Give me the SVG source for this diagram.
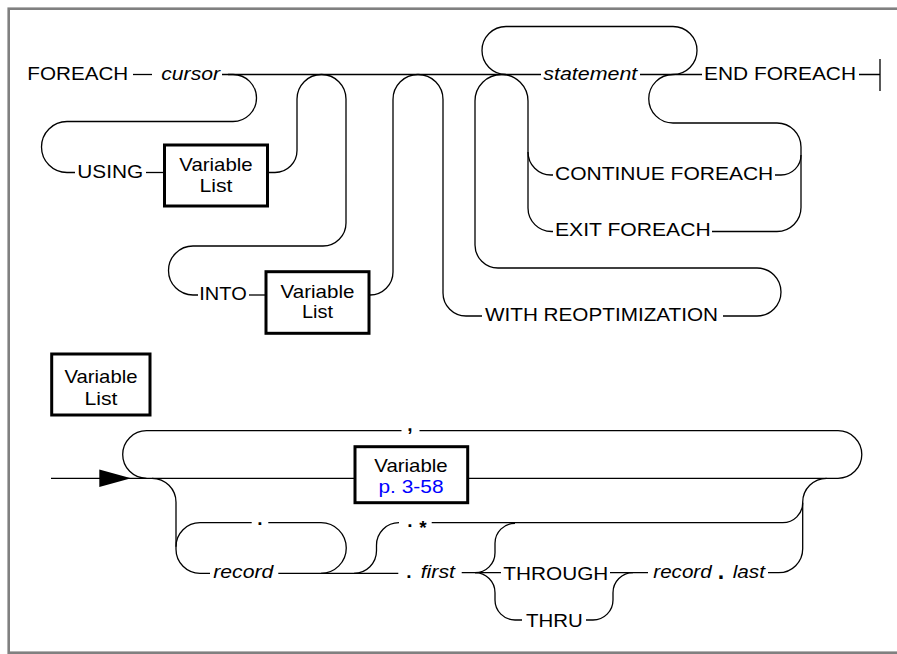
<svg xmlns="http://www.w3.org/2000/svg" width="897" height="654" viewBox="0 0 897 654">
<style>
.rail{fill:none;stroke:#000;stroke-width:1.3}
.box{fill:#fff;stroke:#000;stroke-width:3}
.frame{fill:#fff;stroke:#808080;stroke-width:2.6}
.t{font-family:"Liberation Sans",Arial,Helvetica,sans-serif;font-size:19px;fill:#000}
.i{font-style:italic}
.b{font-weight:bold}
.m{text-anchor:middle}
.link{fill:#0000ff}
</style>
<defs>
<marker id="arr" markerWidth="10" markerHeight="10" refX="0" refY="0" orient="auto"/>
</defs>
<rect class="frame" x="8.7" y="8.7" width="892" height="644"/>

<g id="connectors">
  <!-- top diagram -->
  <path class="rail" d="M133,74.5 H152"/>
  <path class="rail" d="M222,74.5 H541"/>
  <path class="rail" d="M228,74.5 H233 A23.5,23.5 0 0 1 233,121.5 H67 A25.5,25.5 0 0 0 67,172.5 H75"/>
  <path class="rail" d="M146,172.5 H164.5"/>
  <path class="rail" d="M267.5,172.5 H275 A22,22 0 0 0 297,150.5 V99 A24.5,24.5 0 0 1 346,99 V223 A23,23 0 0 1 323,246 H193 A24.5,24.5 0 0 0 193,295 H198"/>
  <path class="rail" d="M249,295 H266"/>
  <path class="rail" d="M369,295 H370 A23,23 0 0 0 393,272 V99.5 A25,25 0 0 1 443,99.5 V293 A23,23 0 0 0 466,316 H482"/>
  <path class="rail" d="M723,316 H757 A24,24 0 0 0 781,292 A24,24 0 0 0 757,268 H498 A23,23 0 0 1 475,245 V101 A26.5,26.5 0 0 1 528,101 V208 A23.5,23.5 0 0 0 551.5,231.5 H553"/>
  <path class="rail" d="M528,152 A23,23 0 0 0 551,175 H553"/>
  <path class="rail" d="M775,175 H781 A20,20 0 0 0 801,155"/>
  <path class="rail" d="M712,231.5 H777 A24,24 0 0 0 801,207.5 V147 A24,24 0 0 0 777,123 H673 A24,24 0 0 1 673,74.5"/>
  <path class="rail" d="M506,74.5 A24,24 0 0 1 506,26.5 H673 A24,24 0 0 1 673,74.5"/>
  <path class="rail" d="M640,74.5 H702"/>
  <path class="rail" d="M859,74.5 H880 M880,59 V91"/>
  <!-- bottom diagram -->
  <path class="rail" d="M51,478.3 H131"/>
  <polygon points="99.3,469.6 131,478.3 99.3,487" fill="#000"/>
  <path class="rail" d="M131,478.3 H355"/>
  <path class="rail" d="M467.7,478.3 H838 A23.8,23.8 0 0 0 838,430.7 H419.5"/>
  <path class="rail" d="M401.5,430.7 H146.5 A23.8,23.8 0 0 0 146.5,478.3"/>
  <path class="rail" d="M152,478.3 A24,24 0 0 1 176,502.3 V549.3 A24,24 0 0 0 200,573.3 H210"/>
  <path class="rail" d="M251.7,522.7 H200 A24,24 0 0 0 176,546.7"/>
  <path class="rail" d="M268.3,522.7 H321 A25.3,25.3 0 0 1 321,573.3"/>
  <path class="rail" d="M278.3,573.3 H398.3"/>
  <path class="rail" d="M354,573.3 A22.5,22.5 0 0 0 376.5,550.8 V545.2 A22.5,22.5 0 0 1 399,522.7"/>
  <path class="rail" d="M431.7,522.7 H782.7 A20,20 0 0 0 802.7,502.7"/>
  <path class="rail" d="M826.7,478.3 A24,24 0 0 0 802.7,502.3 V548.7 A24,24 0 0 1 778.7,572.7 H768"/>
  <path class="rail" d="M461.7,572.7 H501"/>
  <path class="rail" d="M475,572.7 A20,20 0 0 0 495,552.7 V543.3 A20,20 0 0 1 515,523.3"/>
  <path class="rail" d="M475,572.7 A20,20 0 0 1 495,592.7 V600 A20,20 0 0 0 515,620 H522"/>
  <path class="rail" d="M610,572.7 H648"/>
  <path class="rail" d="M586,620 H593 A20,20 0 0 0 613,600 V592.7 A20,20 0 0 1 633,572.7"/>
</g>

<g id="foreach"><text class="t" x="27.3" y="80" textLength="101" lengthAdjust="spacingAndGlyphs">FOREACH</text></g>
<g id="cursor"><text class="t i" x="161.3" y="80" textLength="58.7" lengthAdjust="spacingAndGlyphs">cursor</text></g>
<g id="using"><text class="t" x="77.3" y="178.3" textLength="66" lengthAdjust="spacingAndGlyphs">USING</text></g>
<g id="using-varlist">
  <rect class="box" x="164.5" y="145" width="103" height="61"/>
  <text class="t m" x="216" y="170.7" textLength="73.3" lengthAdjust="spacingAndGlyphs">Variable</text>
  <text class="t m" x="216" y="192.3" textLength="33" lengthAdjust="spacingAndGlyphs">List</text>
</g>
<g id="into"><text class="t" x="199.3" y="300" textLength="47.4" lengthAdjust="spacingAndGlyphs">INTO</text></g>
<g id="into-varlist">
  <rect class="box" x="266" y="271.7" width="103" height="61.6"/>
  <text class="t m" x="317.5" y="298.3" textLength="74" lengthAdjust="spacingAndGlyphs">Variable</text>
  <text class="t m" x="317.5" y="318.3" textLength="31" lengthAdjust="spacingAndGlyphs">List</text>
</g>
<g id="statement"><text class="t i" x="543.3" y="79.5" textLength="94" lengthAdjust="spacingAndGlyphs">statement</text></g>
<g id="end-foreach"><text class="t" x="704" y="79.5" textLength="152" lengthAdjust="spacingAndGlyphs">END FOREACH</text></g>
<g id="continue-foreach"><text class="t" x="555" y="180" textLength="218.3" lengthAdjust="spacingAndGlyphs">CONTINUE FOREACH</text></g>
<g id="exit-foreach"><text class="t" x="555" y="236" textLength="155.7" lengthAdjust="spacingAndGlyphs">EXIT FOREACH</text></g>
<g id="with-reopt"><text class="t" x="485" y="320.7" textLength="233" lengthAdjust="spacingAndGlyphs">WITH REOPTIMIZATION</text></g>

<g id="varlist-label">
  <rect class="box" x="51.7" y="354" width="98.3" height="61"/>
  <text class="t m" x="101" y="383" textLength="73" lengthAdjust="spacingAndGlyphs">Variable</text>
  <text class="t m" x="101" y="405" textLength="33" lengthAdjust="spacingAndGlyphs">List</text>
</g>
<g id="comma"><text class="t b m" x="410" y="431">,</text></g>
<g id="variable">
  <rect class="box" x="355" y="446.7" width="112.7" height="56"/>
  <text class="t m" x="411" y="471.7" textLength="73.4" lengthAdjust="spacingAndGlyphs">Variable</text>
  <text class="t m link" x="411" y="492.5" textLength="65" lengthAdjust="spacingAndGlyphs">p. 3-58</text>
</g>
<g id="dot-sep"><text class="t b m" x="260" y="525">.</text></g>
<g id="record1"><text class="t i" x="213.3" y="578.3" textLength="60" lengthAdjust="spacingAndGlyphs">record</text></g>
<g id="dot-star">
  <text class="t b m" x="410" y="526.5">.</text>
  <text class="t b m" x="423" y="534">*</text>
</g>
<g id="first">
  <text class="t b m" x="409" y="577.5">.</text>
  <text class="t i" x="420.7" y="578" textLength="34.3" lengthAdjust="spacingAndGlyphs">first</text>
</g>
<g id="through"><text class="t" x="503.3" y="580" textLength="105" lengthAdjust="spacingAndGlyphs">THROUGH</text></g>
<g id="thru"><text class="t" x="526" y="627.3" textLength="56.7" lengthAdjust="spacingAndGlyphs">THRU</text></g>
<g id="record-last">
  <text class="t i" x="653.3" y="578.3" textLength="58.4" lengthAdjust="spacingAndGlyphs">record</text>
  <text class="t b m" x="721" y="578.8" style="font-size:23px">.</text>
  <text class="t i" x="732.7" y="578.3" textLength="32.3" lengthAdjust="spacingAndGlyphs">last</text>
</g>
</svg>
